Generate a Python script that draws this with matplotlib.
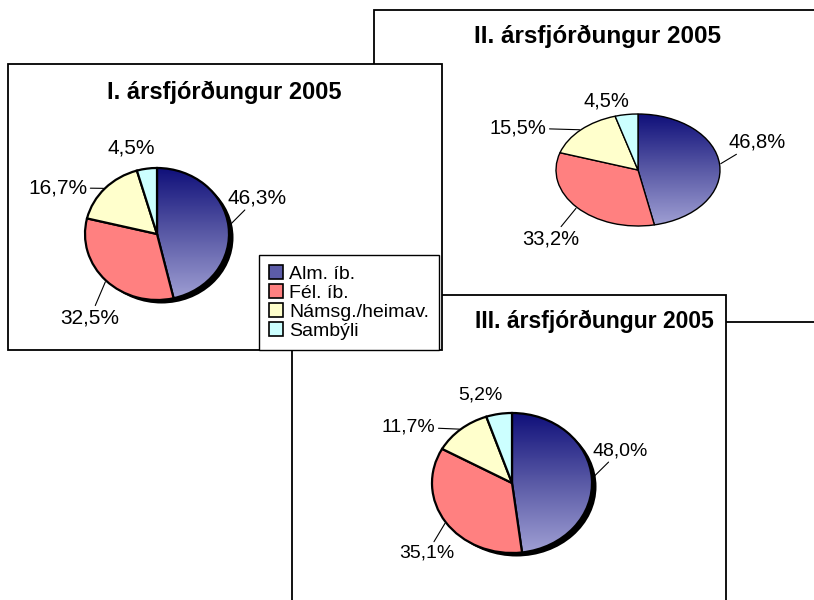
import numpy as np
import matplotlib.pyplot as plt
from matplotlib.patches import Rectangle, Ellipse, Patch
from matplotlib.colors import LinearSegmentedColormap

plt.rcParams['font.family'] = ['Liberation Sans', 'DejaVu Sans']

# data
categories = ['Alm. íb.', 'Fél. íb.', 'Námsg./heimav.', 'Sambýli']
q1_values = [46.3, 32.5, 16.7, 4.5]
q2_values = [46.8, 33.2, 15.5, 4.5]
q3_values = [48.0, 35.1, 11.7, 5.2]
titles = ['I. ársfjórðungur 2005', 'II. ársfjórðungur 2005', 'III. ársfjórðungur 2005']

colors = ['#5c5ca8', '#ff8080', '#ffffcc', '#ccffff']
alm_grad = LinearSegmentedColormap.from_list('alm', ['#a0a0d4', '#5a5aa6', '#10107a'])

W, H = 814, 600
fig = plt.figure(figsize=(W / 100, H / 100), dpi=100)

# background axes in pixel units for the three chart frames
bg = fig.add_axes([0, 0, 1, 1])
bg.set_xlim(0, W)
bg.set_ylim(H, 0)
bg.axis('off')

# frames: x, y, w, h, zorder (II at the back, I in front)
frames = [(374, 10, 480, 312, 1), (292, 295, 434, 340, 2), (8, 64, 434, 286, 3)]
for x, y, w, h, z in frames:
    bg.add_patch(Rectangle((x, y), w, h, facecolor='white', edgecolor='black', lw=1.3, zorder=z))

# titles
bg.text(224, 92, titles[0], ha='center', va='center', fontsize=17, fontweight='bold', zorder=3.5)
bg.text(597, 36, titles[1], ha='center', va='center', fontsize=17.5, fontweight='bold', zorder=1.5)
bg.text(594, 321, titles[2], ha='center', va='center', fontsize=16.5, fontweight='bold', zorder=2.5)


def fmt(v):
    return f'{v:.1f}'.replace('.', ',') + '%'


def draw_pie(values, cx, cy, rx, ry, label_pos, fs, shadow, lw):
    ax = fig.add_axes([(cx - rx) / W, 1 - (cy + ry) / H, 2 * rx / W, 2 * ry / H])
    ax.set_zorder(5)
    wedges, _ = ax.pie(values, colors=colors, startangle=90, counterclock=False,
                       wedgeprops=dict(edgecolor='black', linewidth=lw))
    for wdg in wedges:
        wdg.set_zorder(2)
    wedges[0].set_facecolor('none')

    # gradient fill for the first slice
    g = np.linspace(0, 1, 256).reshape(-1, 1)
    im = ax.imshow(g, cmap=alm_grad, extent=[-1, 1, -1, 1], origin='lower',
                   aspect='auto', zorder=1.5)
    im.set_clip_path(wedges[0])

    if shadow:
        ax.add_patch(Ellipse((4.5 / rx, -3.5 / ry), 2, 2, facecolor='black',
                             edgecolor='none', zorder=1, clip_on=False))

    ax.set_xlim(-1, 1)
    ax.set_ylim(-1, 1)
    ax.set_aspect('auto')
    ax.axis('off')

    # labels with leader lines
    total = sum(values)
    cum = 0
    for i, v in enumerate(values):
        mid = np.deg2rad(90 - (cum + v / 2) / total * 360)
        cum += v
        arrow = dict(arrowstyle='-', lw=0.8, color='black', shrinkA=0, shrinkB=1) if i < 3 else None
        ax.annotate(fmt(v), xy=(np.cos(mid), np.sin(mid)), xytext=label_pos[i],
                    ha='center', va='center', fontsize=fs, arrowprops=arrow,
                    annotation_clip=False)
    return ax


draw_pie(q1_values, 157, 234, 72, 66,
         [(1.39, 0.55), (-0.93, -1.27), (-1.375, 0.70), (-0.36, 1.30)], 15, True, 1.6)
draw_pie(q2_values, 638, 170, 82, 56,
         [(1.45, 0.50), (-1.06, -1.23), (-1.46, 0.75), (-0.38, 1.23)], 14.5, False, 1.0)
draw_pie(q3_values, 512, 483, 80, 70,
         [(1.35, 0.46), (-1.06, -1.0), (-1.29, 0.80), (-0.40, 1.26)], 14, True, 1.6)

# legend for chart I
handles = [Patch(facecolor=c, edgecolor='black', lw=1.2) for c in colors]
fig.legend(handles, categories, loc='upper left', bbox_to_anchor=(259 / W, 1 - 255 / H),
           fontsize=14, frameon=True, fancybox=False, edgecolor='black', framealpha=1,
           handlelength=0.75, handleheight=0.75, handletextpad=0.3, labelspacing=0.06,
           borderpad=0.5, borderaxespad=0)

fig.savefig('out.png', dpi=100)
